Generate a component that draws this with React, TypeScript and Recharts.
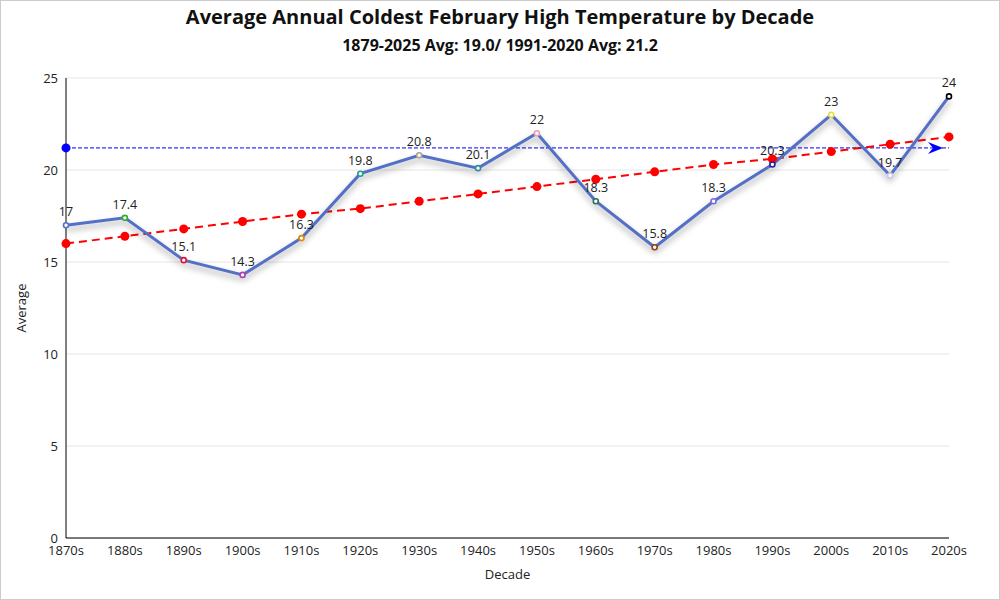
import React from 'react';
import { CartesianGrid, LabelList, Line, LineChart, XAxis, YAxis } from 'recharts';

const decades = ['1870s', '1880s', '1890s', '1900s', '1910s', '1920s', '1930s', '1940s', '1950s', '1960s', '1970s', '1980s', '1990s', '2000s', '2010s', '2020s'];
const averages = [17, 17.4, 15.1, 14.3, 16.3, 19.8, 20.8, 20.1, 22, 18.3, 15.8, 18.3, 20.3, 23, 19.7, 24];
const trend = [16.0, 16.4, 16.8, 17.2, 17.6, 17.9, 18.3, 18.7, 19.1, 19.5, 19.9, 20.3, 20.6, 21.0, 21.4, 21.8];
const normal = [21.2, 21.2, 21.2, 21.2, 21.2, 21.2, 21.2, 21.2, 21.2, 21.2, 21.2, 21.2, 21.2, 21.2, 21.2, 21.2];
const markerColors = ['#5470c6', '#33aa33', '#dc143c', '#b03fb0', '#e08a00', '#20a090', '#b0a090', '#2f8fa0', '#e8a0b0', '#2f6f5f', '#8b4513', '#7b68ee', '#2020a0', '#e0e040', '#c8c8e8', '#000000'];
const yTicks = [0, 5, 10, 15, 20, 25];

const data = decades.map((decade, i) => ({
  decade,
  avg: averages[i],
  trend: trend[i],
  normal: normal[i],
}));

const font = '"Segoe UI", "Open Sans", "Noto Sans", sans-serif';
const tick = { fontSize: 13, fill: '#222', fontFamily: font };

const MarkerDot = (props: any) => {
  const { cx, cy, index } = props;
  if (cx == null || cy == null) return null;
  return <circle key={index} cx={cx} cy={cy} r={2.5} fill="#fff" stroke={markerColors[index]} strokeWidth={1.6} />;
};

const NormalDot = (props: any) => {
  const { cx, cy, index } = props;
  if (cx == null || cy == null) return null;
  if (index === 0) return <circle key={index} cx={cx} cy={cy} r={4.5} fill="#0000ff" />;
  if (index === normal.length - 1) {
    const tip = cx - 6;
    return <polygon key={index} points={`${tip},${cy} ${tip - 15},${cy - 6} ${tip - 10},${cy} ${tip - 15},${cy + 6}`} fill="#0000ff" />;
  }
  return <g key={index} />;
};

export default function App() {
  return (
    <div
      style={{
        position: 'fixed',
        top: 0,
        left: 0,
        width: 1000,
        height: 600,
        boxSizing: 'border-box',
        border: '1px solid #cccccc',
        background: '#fff',
        fontFamily: font,
      }}
    >
      <div style={{ position: 'absolute', top: 2, width: '100%', textAlign: 'center', fontSize: 20, fontWeight: 700, color: '#111' }}>
        Average Annual Coldest February High Temperature by Decade
      </div>
      <div style={{ position: 'absolute', top: 33, width: '100%', textAlign: 'center', fontSize: 16, fontWeight: 700, color: '#111' }}>
        1879-2025 Avg: 19.0/ 1991-2020 Avg: 21.2
      </div>
      <div style={{ position: 'absolute', top: -1, left: -1 }}>
        <LineChart width={1000} height={600} data={data} margin={{ top: 78, right: 51, bottom: 18, left: 16 }}>
          <CartesianGrid stroke="#e6e6e6" vertical={false} />
          <XAxis
            dataKey="decade"
            tick={tick}
            tickLine={false}
            axisLine={{ stroke: '#000' }}
            height={44}
            interval={0}
            label={{ value: 'Decade', position: 'insideBottom', offset: 3, style: { fontSize: 13, fill: '#222', fontFamily: font } }}
          />
          <YAxis
            domain={[0, 25]}
            ticks={yTicks}
            tick={tick}
            tickLine={false}
            axisLine={{ stroke: '#000' }}
            width={50}
            label={{ value: 'Average', angle: -90, position: 'insideLeft', offset: 5, style: { textAnchor: 'middle', fontSize: 13, fill: '#222', fontFamily: font } }}
          />
          <Line
            dataKey="normal"
            stroke="#0000ff"
            strokeWidth={1}
            strokeDasharray="4 2"
            dot={NormalDot}
            activeDot={false}
            isAnimationActive={false}
          />
          <Line
            dataKey="trend"
            stroke="#ff0000"
            strokeWidth={2}
            strokeDasharray="8 5"
            dot={{ r: 4.5, fill: '#ff0000', stroke: '#ff0000', strokeWidth: 0 }}
            activeDot={false}
            isAnimationActive={false}
          />
          <Line
            dataKey="avg"
            stroke="#5470c6"
            strokeWidth={3}
            dot={MarkerDot}
            activeDot={false}
            isAnimationActive={false}
            style={{ filter: 'drop-shadow(0px 4px 3px rgba(0,0,0,0.35))' }}
          >
            <LabelList dataKey="avg" position="top" offset={9} style={{ fontSize: 12.5, fill: '#222', fontFamily: font }} />
          </Line>
        </LineChart>
      </div>
    </div>
  );
}
